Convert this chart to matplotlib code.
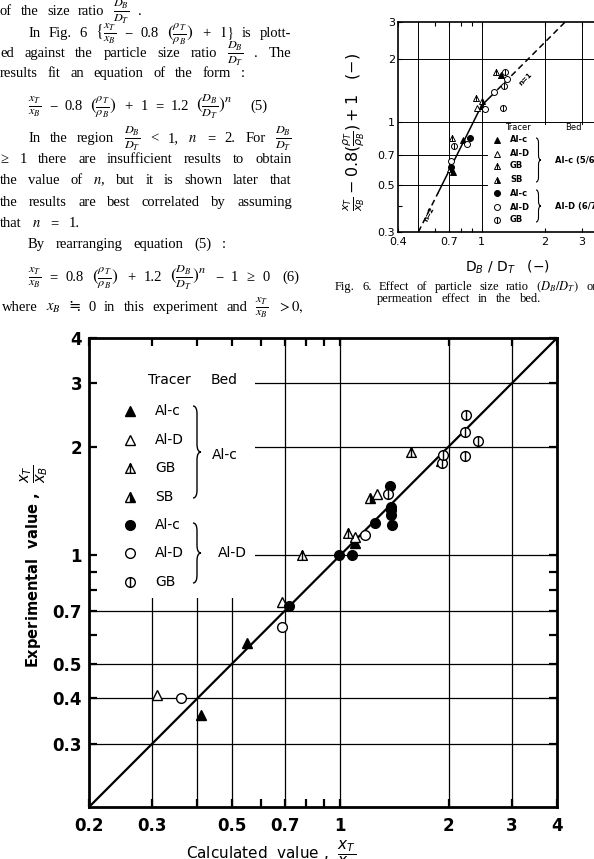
import matplotlib
matplotlib.use("Agg")
import matplotlib.pyplot as plt
import matplotlib.transforms as mtransforms
from matplotlib.path import Path
from matplotlib.patches import PathPatch, Rectangle
from matplotlib.ticker import FixedLocator, FixedFormatter, NullFormatter

W, H = 594, 859
SERIF = ['Liberation Serif', 'DejaVu Serif', 'DejaVu Sans']
SANS = ['DejaVu Sans']

# ---- Fig. 6 data : D_B/D_T (x) vs xT/xB - 0.8(rhoT/rhoB) + 1 (y)
f6_alc_alc_x = [1.24, 1.00, 0.82, 0.73]
f6_alc_alc_y = [1.67, 1.20, 0.82, 0.58]
f6_ald_alc_x = [0.95]
f6_ald_alc_y = [1.17]
f6_gb_alc_x = [1.17, 0.94, 0.72]
f6_gb_alc_y = [1.74, 1.30, 0.84]
f6_sb_alc_x = [1.00, 0.71]
f6_sb_alc_y = [1.26, 0.60]
f6_alc_ald_x = [0.88, 0.715]
f6_alc_ald_y = [0.84, 0.61]
f6_ald_ald_x = [1.32, 1.14, 1.04, 0.85, 0.714]
f6_ald_ald_y = [1.61, 1.39, 1.16, 0.79, 0.65]
f6_gb_ald_x = [1.29, 1.28, 1.27, 0.74]
f6_gb_ald_y = [1.74, 1.48, 1.17, 0.77]
# fitted lines (n=2 below 1, n=1 above)
n2_dash_x, n2_dash_y = [0.5, 0.62], [0.30, 0.46]
n2_x, n2_y = [0.62, 1.0], [0.46, 1.20]
n1_x, n1_y = [1.0, 1.1], [1.20, 1.32]
n1_dash_x, n1_dash_y = [1.1, 2.5], [1.32, 3.0]

# ---- main chart : calculated (x) vs experimental (y)
alc_alc_x = [0.41, 0.55, 1.10]
alc_alc_y = [0.36, 0.57, 1.08]
ald_alc_x = [0.31, 0.69, 1.10, 1.26]
ald_alc_y = [0.41, 0.74, 1.12, 1.48]
gb_alc_x = [0.78, 1.05, 1.57, 1.90]
gb_alc_y = [1.00, 1.15, 1.93, 1.82]
sb_alc_x = [1.21]
sb_alc_y = [1.44]
alc_ald_x = [0.72, 0.99, 1.08, 1.25, 1.37, 1.38, 1.38, 1.38, 1.39]
alc_ald_y = [0.72, 1.00, 1.00, 1.23, 1.55, 1.36, 1.33, 1.29, 1.21]
ald_ald_x = [0.36, 0.69, 1.17]
ald_ald_y = [0.40, 0.63, 1.14]
gb_ald_x = [1.36, 1.92, 1.93, 2.22, 2.22, 2.23, 2.41]
gb_ald_y = [1.48, 1.80, 1.90, 1.88, 2.20, 2.45, 2.07]
diag_x, diag_y = [0.2, 4.0], [0.2, 4.0]

main_xticks = [0.2, 0.3, 0.5, 0.7, 1, 2, 3, 4]
main_xlabels = ['0.2', '0.3', '0.5', '0.7', '1', '2', '3', '4']
main_yticks = [0.3, 0.4, 0.5, 0.7, 1, 2, 3, 4]
main_ylabels = ['0.3', '0.4', '0.5', '0.7', '1', '2', '3', '4']
f6_xticks = [0.4, 0.7, 1, 2, 3, 4]
f6_xlabels = ['0.4', '0.7', '1', '2', '3', '4']
f6_yticks = [0.3, 0.5, 0.7, 1, 2, 3]
f6_ylabels = ['0.3', '0.5', '0.7', '1', '2', '3']

tracers = ['Al-c', 'Al-D', 'GB', 'SB', 'Al-c', 'Al-D', 'GB']

fig = plt.figure(figsize=(W / 100, H / 100), dpi=100)
px = mtransforms.Affine2D().scale(1 / W, -1 / H).translate(0, 1) + fig.transFigure

# marker shapes
tri_bar = Path([(0, 1), (-1, -1), (1, -1), (0, 1), (0, 1), (0, -1)],
               [Path.MOVETO, Path.LINETO, Path.LINETO, Path.CLOSEPOLY, Path.MOVETO, Path.LINETO])
phi = Path.make_compound_path(Path.unit_circle(),
                              Path([(0, 1), (0, -1)], [Path.MOVETO, Path.LINETO]))
styles = [
    dict(marker='^', mfc='k', mec='k'),
    dict(marker='^', mfc='white', mec='k'),
    dict(marker=tri_bar, mfc='white', mec='k'),
    dict(marker='^', fillstyle='right', mfc='k', markerfacecoloralt='white', mec='k'),
    dict(marker='o', mfc='k', mec='k'),
    dict(marker='o', mfc='white', mec='k'),
    dict(marker=phi, mfc='white', mec='k'),
]


def line(words, x0, x1, y, size=10.5, family=SERIF):
    # words: str, or (str, size factor) for fractions
    r = fig.canvas.get_renderer()
    ts = []
    for w in words:
        s, k = (w, 1.0) if isinstance(w, str) else w
        ts.append(fig.text(0, y, s, transform=px, fontsize=size * k, family=family,
                           math_fontfamily='stix', va='baseline'))
    ws = [t.get_window_extent(r).width for t in ts]
    gap = max((x1 - x0 - sum(ws)) / max(len(ws) - 1, 1), 2.0)
    x = x0
    for t, w in zip(ts, ws):
        t.set_x(x)
        x += w + gap


def brace(x, y0, y1, w, lw=1.0):
    ym = (y0 + y1) / 2
    r = min(w, (y1 - y0) / 6)
    m = x + w / 2
    verts = [(x, y0), (m, y0), (m, y0 + r), (m, ym - r), (m, ym), (x + w, ym),
             (m, ym), (m, ym + r), (m, y1 - r), (m, y1), (x, y1)]
    codes = [Path.MOVETO, Path.CURVE3, Path.CURVE3, Path.LINETO, Path.CURVE3, Path.CURVE3,
             Path.CURVE3, Path.CURVE3, Path.LINETO, Path.CURVE3, Path.CURVE3]
    fig.add_artist(PathPatch(Path(verts, codes), fc='none', ec='k', lw=lw, transform=px))


# ---------------- body text ----------------
K = 1.2
fxb = (r'$\frac{x_T}{x_B}$', K)
fdd = (r'$\frac{D_B}{D_T}$', K)
frr = (r'$(\frac{\rho_T}{\rho_B})$', K)
fddn = (r'$(\frac{D_B}{D_T})^n$', K)
body = [
    (['of', 'the', 'size', 'ratio', fdd, '.'], 0, 142, 15),
    (['In', 'Fig.', '6', (r'$\{\frac{x_T}{x_B}$', K), '−', '0.8', frr, '+',
      r'$1\}$', 'is', 'plott-'], 28, 291, 37),
    (['ed', 'against', 'the', 'particle', 'size', 'ratio', fdd, '.', 'The'], 0, 291, 57),
    (['results', 'fit', 'an', 'equation', 'of', 'the', 'form', ':'], 0, 245, 77),
    ([fxb, '−', '0.8', frr, '+', '1', '=', '1.2', fddn], 28, 233, 110),
    (['(5)'], 250, 272, 110),
    (['In', 'the', 'region', fdd, '<', '1,', '$n$', '=', '2.', 'For', fdd], 28, 292, 142),
    (['≥', '1', 'there', 'are', 'insufficient', 'results', 'to', 'obtain'], 0, 292, 163),
    (['the', 'value', 'of', '$n$,', 'but', 'it', 'is', 'shown', 'later', 'that'], 0, 291, 184),
    (['the', 'results', 'are', 'best', 'correlated', 'by', 'assuming'], 0, 292, 206),
    (['that', '$n$', '=', '1.'], 0, 80, 227),
    (['By', 'rearranging', 'equation', '(5)', ':'], 28, 226, 248),
    ([fxb, '=', '0.8', frr, '+', '1.2', fddn, '−', '1', '≥', '0'], 28, 270, 281),
    (['(6)'], 282, 303, 281),
    (['where', '$x_B$', '≒', '0', 'in', 'this', 'experiment', 'and', fxb, r'$>0,$'], 2, 303, 311),
]
for words, x0, x1, y in body:
    line(words, x0, x1, y)

# caption of Fig. 6
line(['Fig.', '6.', 'Effect', 'of', 'particle', 'size', 'ratio', r'$(D_B/D_T)$', 'on'],
     335, 599, 290, size=9)
line(['permeation', 'effect', 'in', 'the', 'bed.'], 377, 541, 302, size=9)

# ---------------- Fig. 6 (small chart) ----------------
ax6 = fig.add_axes([398 / W, (H - 232) / H, 210 / W, 210 / H])
ax6.set_xscale('log')
ax6.set_yscale('log')
for v in [0.5, 0.7, 1, 2, 3]:
    ax6.axvline(v, color='k', lw=0.7, zorder=1)
for v in [0.5, 0.7, 1, 2]:
    ax6.axhline(v, color='k', lw=0.7, zorder=1)
ax6.add_patch(Rectangle((1.07, 0.3), 3.0, 0.67, fc='white', ec='none', zorder=1.5))
ax6.plot(n2_dash_x, n2_dash_y, color='k', lw=1.1, ls=(0, (4, 2.5)), zorder=2)
ax6.plot(n2_x, n2_y, color='k', lw=1.1, zorder=2)
ax6.plot(n1_x, n1_y, color='k', lw=1.1, zorder=2)
ax6.plot(n1_dash_x, n1_dash_y, color='k', lw=1.1, ls=(0, (4, 2.5)), zorder=2)
ax6.text(0.565, 0.365, 'n=2', rotation=63, fontsize=5, fontweight='bold', family=SANS,
         ha='center', va='center')
ax6.text(1.62, 1.6, 'n=1', rotation=45, fontsize=5, fontweight='bold', family=SANS,
         ha='center', va='center')
f6_series = [(f6_alc_alc_x, f6_alc_alc_y), (f6_ald_alc_x, f6_ald_alc_y), (f6_gb_alc_x, f6_gb_alc_y),
             (f6_sb_alc_x, f6_sb_alc_y), (f6_alc_ald_x, f6_alc_ald_y), (f6_ald_ald_x, f6_ald_ald_y),
             (f6_gb_ald_x, f6_gb_ald_y)]
for (xs, ys), st in zip(f6_series, styles):
    ax6.plot(xs, ys, ls='none', ms=4.3, mew=0.7, zorder=3, **st)
ax6.set_xlim(0.4, 4)
ax6.set_ylim(0.3, 3)
ax6.xaxis.set_major_locator(FixedLocator(f6_xticks))
ax6.xaxis.set_major_formatter(FixedFormatter(f6_xlabels))
ax6.xaxis.set_minor_locator(FixedLocator([0.6, 0.8, 0.9]))
ax6.xaxis.set_minor_formatter(NullFormatter())
ax6.yaxis.set_major_locator(FixedLocator(f6_yticks))
ax6.yaxis.set_major_formatter(FixedFormatter(f6_ylabels))
ax6.yaxis.set_minor_locator(FixedLocator([0.4]))
ax6.yaxis.set_minor_formatter(NullFormatter())
ax6.tick_params(which='both', direction='in', top=True, right=True, labelsize=8, pad=2,
                length=3, width=0.8)
ax6.tick_params(axis='x', pad=3.5)
for lab in ax6.get_xticklabels() + ax6.get_yticklabels():
    lab.set_family(SANS)
for s in ax6.spines.values():
    s.set_linewidth(1.2)

# Fig. 6 legend
fig.text(505, 127, 'Tracer', transform=px, fontsize=6, family=SANS, va='center')
fig.text(565, 127, 'Bed', transform=px, fontsize=6, family=SANS, va='center')
for yy, st, name in zip([140, 154, 166, 180, 193, 207, 220], styles, tracers):
    ax6.plot([497], [yy], transform=px, ls='none', ms=4.3, mew=0.7, clip_on=False, **st)
    fig.text(510, yy, name, transform=px, fontsize=6, fontweight='bold', family=SANS, va='center')
brace(536, 138, 182, 5, lw=0.8)
brace(536, 190, 222, 5, lw=0.8)
fig.text(555, 160, 'Al-c (5/6)', transform=px, fontsize=6, fontweight='bold', family=SANS, va='center')
fig.text(555, 207, 'Al-D (6/7)', transform=px, fontsize=6, fontweight='bold', family=SANS, va='center')
fig.text(354, 132, r'$\frac{x_T}{x_B}-0.8(\frac{\rho_T}{\rho_B})+1$   (−)', transform=px,
         rotation=90, fontsize=11.5, family=SANS, math_fontfamily='dejavusans', ha='center', va='center')
fig.text(507, 267, r'D$_B$ / D$_T$   (−)', transform=px, fontsize=10, family=SANS,
         math_fontfamily='dejavusans', ha='center', va='center')

# ---------------- main chart ----------------
ax = fig.add_axes([89 / W, (H - 807) / H, 468 / W, 469 / H])
ax.set_xscale('log')
ax.set_yscale('log')
for v in [0.3, 0.4, 0.5, 0.7, 1, 2, 3]:
    ax.axvline(v, color='k', lw=0.9, zorder=1)
    ax.axhline(v, color='k', lw=0.9, zorder=1)
ax.add_patch(Rectangle((0.2, 0.76), 0.38, 3.3, fc='white', ec='none', zorder=1.5))
ax.plot(diag_x, diag_y, color='k', lw=1.6, zorder=2)
main_series = [(alc_alc_x, alc_alc_y), (ald_alc_x, ald_alc_y), (gb_alc_x, gb_alc_y),
               (sb_alc_x, sb_alc_y), (alc_ald_x, alc_ald_y), (ald_ald_x, ald_ald_y),
               (gb_ald_x, gb_ald_y)]
for (xs, ys), st in zip(main_series, styles):
    ax.plot(xs, ys, ls='none', ms=7, mew=1.0, zorder=3, **st)
ax.set_xlim(0.2, 4)
ax.set_ylim(0.2, 4)
ax.xaxis.set_major_locator(FixedLocator(main_xticks))
ax.xaxis.set_major_formatter(FixedFormatter(main_xlabels))
ax.xaxis.set_minor_locator(FixedLocator([0.4, 0.6, 0.8, 0.9]))
ax.xaxis.set_minor_formatter(NullFormatter())
ax.yaxis.set_major_locator(FixedLocator(main_yticks))
ax.yaxis.set_major_formatter(FixedFormatter(main_ylabels))
ax.yaxis.set_minor_locator(FixedLocator([0.6, 0.8, 0.9]))
ax.yaxis.set_minor_formatter(NullFormatter())
ax.tick_params(which='both', direction='in', top=True, right=True, labelsize=12,
               length=6, width=1.6)
ax.tick_params(axis='x', pad=7)
ax.tick_params(axis='y', pad=5)
for lab in ax.get_xticklabels() + ax.get_yticklabels():
    lab.set_family(SANS)
    lab.set_fontweight('bold')
for s in ax.spines.values():
    s.set_linewidth(2.0)

# main legend
fig.text(148, 380, 'Tracer', transform=px, fontsize=10, family=SANS, va='center')
fig.text(211, 380, 'Bed', transform=px, fontsize=10, family=SANS, va='center')
for yy, st, name in zip([411, 440, 468, 497, 525, 553, 582], styles, tracers):
    ax.plot([130], [yy], transform=px, ls='none', ms=7, mew=1.0, clip_on=False, **st)
    fig.text(155, yy, name, transform=px, fontsize=10, family=SANS, va='center')
brace(193, 406, 498, 8)
brace(193, 523, 583, 8)
fig.text(212, 455, 'Al-c', transform=px, fontsize=10, family=SANS, va='center')
fig.text(218, 553, 'Al-D', transform=px, fontsize=10, family=SANS, va='center')

fig.text(34, 566, r'Experimental  value ,  $\dfrac{x_T}{x_B}$', transform=px, rotation=90,
         fontsize=10.5, fontweight='bold', family=SANS, math_fontfamily='dejavusans',
         ha='center', va='center')
fig.text(186, 859, r'Calculated  value ,  $\dfrac{x_T}{x_B}$', transform=px, fontsize=11,
         family=SANS, math_fontfamily='dejavusans', va='baseline')

fig.savefig('out.png', dpi=100)
